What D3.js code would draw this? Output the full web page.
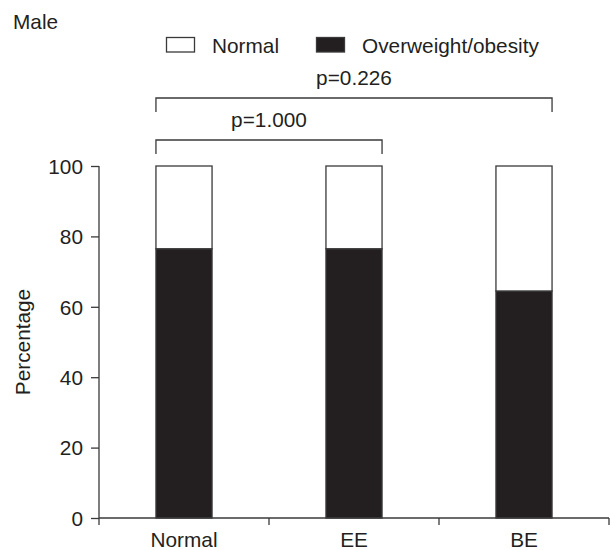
<!DOCTYPE html>
<html>
<head>
<meta charset="utf-8">
<script src="https://cdn.jsdelivr.net/npm/d3@7"></script>
<style>
  body { margin: 0; background: #fff; }
  svg text { font-family: "Liberation Sans", Arial, sans-serif; fill: #231f20; }
</style>
</head>
<body>
<svg id="chart" width="610" height="550"></svg>
<script>
const title = "Male";
const categories = ["Normal", "EE", "BE"];
const overweight = [76.5, 76.5, 64.5];
const normal = [23.5, 23.5, 35.5];
const seriesNames = ["Normal", "Overweight/obesity"];
const yTicks = [0, 20, 40, 60, 80, 100];
const yLabel = "Percentage";
const comparisons = [
  { from: "Normal", to: "BE", label: "p=0.226" },
  { from: "Normal", to: "EE", label: "p=1.000" }
];

const svg = d3.select("#chart");
const ink = "#231f20";
const axisCol = "#3a3a3a";
const fs = 20.8;

const x = d3.scaleBand().domain(categories).range([99, 609]).paddingInner(0.67).paddingOuter(0.335);
const y = d3.scaleLinear().domain([0, 100]).range([518, 166]);

// title
svg.append("text").attr("x", 13).attr("y", 28.5).attr("font-size", fs).text(title);

// legend
const legX = [166, 316];
seriesNames.forEach((name, i) => {
  svg.append("rect").attr("x", legX[i] + 0.5).attr("y", 37.5).attr("width", 28).attr("height", 14.5)
    .attr("fill", i === 0 ? "#fff" : ink).attr("stroke", axisCol).attr("stroke-width", 1.3);
  svg.append("text").attr("x", legX[i] + 46).attr("y", 52.5).attr("font-size", fs).text(name);
});

// bars
const rows = categories.map((c, i) => ({ cat: c, Overweight: overweight[i], Normal: normal[i] }));
const stack = d3.stack().keys(["Overweight", "Normal"])(rows);
svg.append("g").selectAll("g").data(stack).join("g")
  .attr("fill", d => d.key === "Overweight" ? ink : "#fff")
  .selectAll("rect").data(d => d).join("rect")
  .attr("x", d => x(d.data.cat))
  .attr("width", x.bandwidth())
  .attr("y", d => y(d[1]))
  .attr("height", d => y(d[0]) - y(d[1]))
  .attr("stroke", axisCol).attr("stroke-width", 1.3);

// y axis
const yAxis = svg.append("g").attr("transform", "translate(99,0)")
  .call(d3.axisLeft(y).tickValues(yTicks).tickSize(8).tickPadding(8));
yAxis.select(".domain").attr("d", `M0,${y(100)}V${y(0) + 7}`);
yAxis.selectAll("line, path").attr("stroke", axisCol).attr("stroke-width", 1.3);
yAxis.selectAll("text").attr("font-size", fs).attr("font-family", "Liberation Sans, Arial, sans-serif")
  .attr("fill", ink).attr("dy", "0.35em");

// x axis
const xg = svg.append("g");
xg.append("line").attr("x1", 99).attr("x2", 609).attr("y1", y(0)).attr("y2", y(0))
  .attr("stroke", axisCol).attr("stroke-width", 1.3);
const bounds = categories.slice(1).map(c => x(c) - x.step() * x.paddingInner() / 2).concat([609]);
bounds.forEach(b => {
  xg.append("line").attr("x1", b).attr("x2", b).attr("y1", y(0)).attr("y2", y(0) + 7)
    .attr("stroke", axisCol).attr("stroke-width", 1.3);
});
categories.forEach(c => {
  xg.append("text").attr("x", x(c) + x.bandwidth() / 2).attr("y", 547)
    .attr("text-anchor", "middle").attr("font-size", fs).text(c);
});

// y label
svg.append("text").attr("transform", "translate(30,342) rotate(-90)")
  .attr("text-anchor", "middle").attr("font-size", fs).text(yLabel);

// comparison brackets
const levelY = [98, 140];
comparisons.forEach((cmp, i) => {
  const x1 = x(cmp.from), x2 = x(cmp.to) + x.bandwidth();
  const yy = levelY[i];
  svg.append("path").attr("d", `M${x1},${yy + 14}V${yy}H${x2}V${yy + 14}`)
    .attr("fill", "none").attr("stroke", axisCol).attr("stroke-width", 1.3);
  svg.append("text").attr("x", (x1 + x2) / 2).attr("y", yy - 13)
    .attr("text-anchor", "middle").attr("font-size", fs).text(cmp.label);
});
</script>
</body>
</html>
